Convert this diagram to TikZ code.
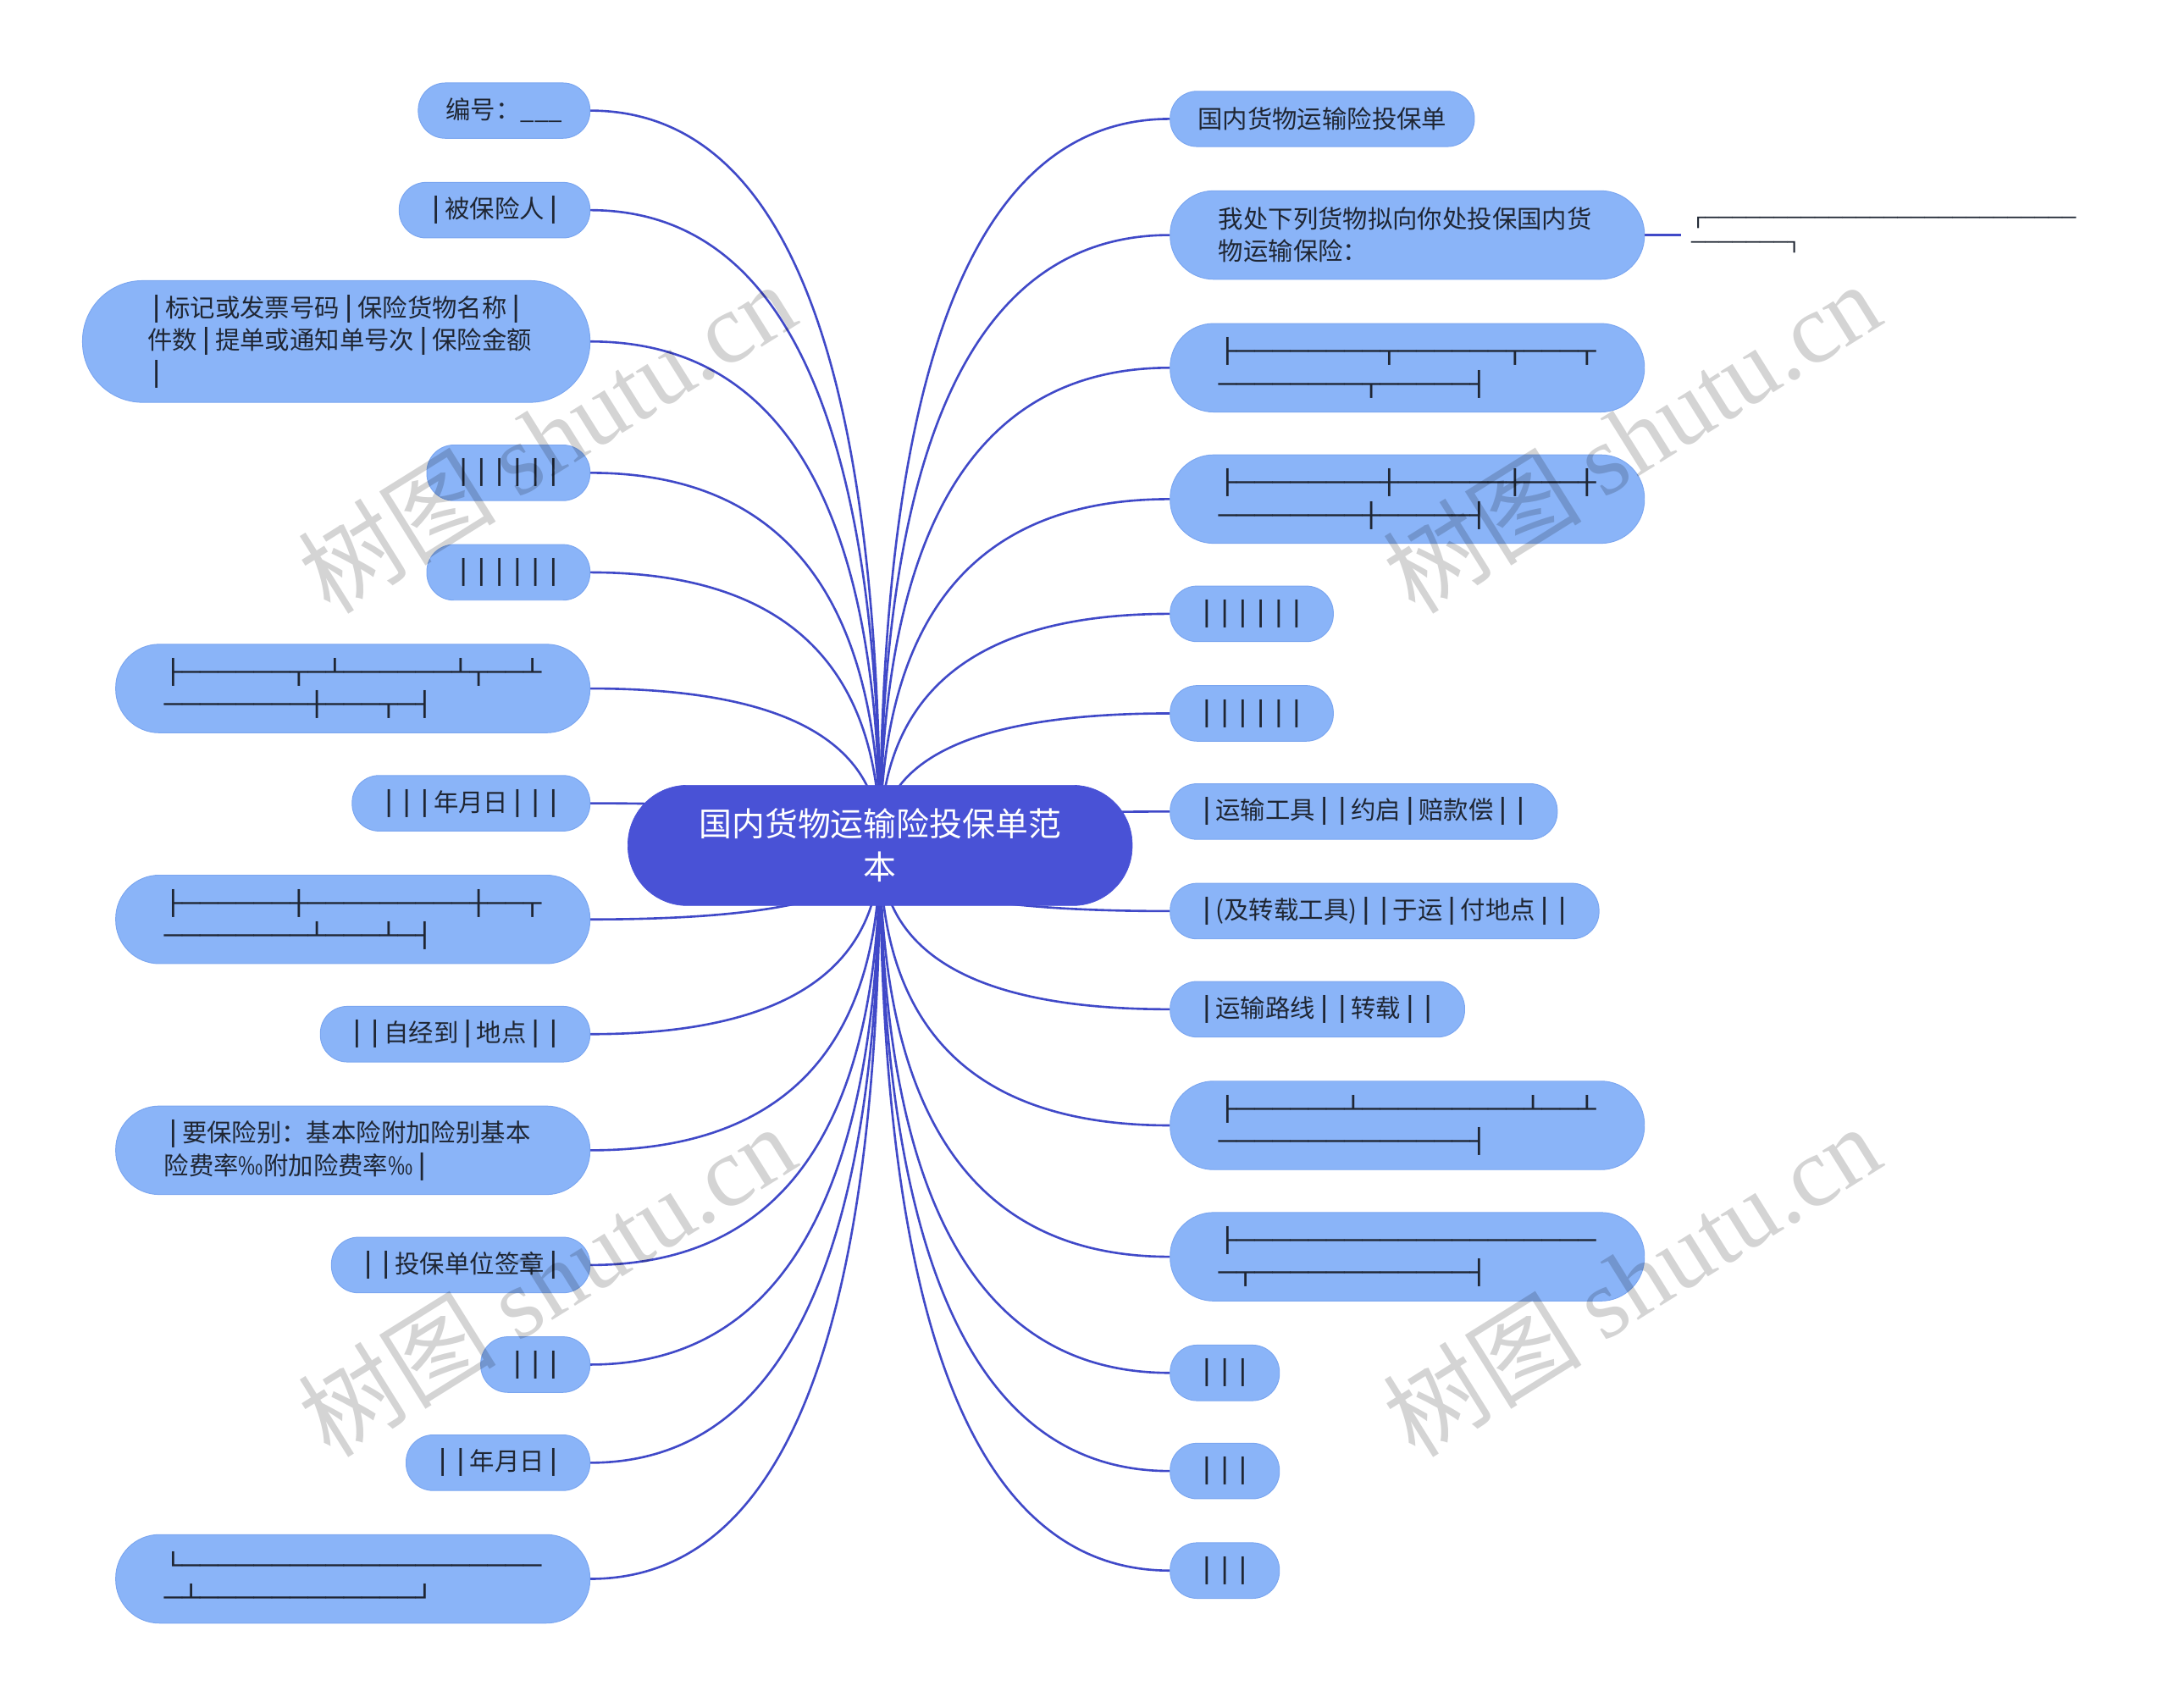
\documentclass[tikz,border=0pt]{standalone}
\usepackage{fontspec}
\setmainfont{Noto Sans CJK SC}
\newfontfamily\boxfont{DejaVu Sans Mono}[FakeStretch=1.27]
\newfontfamily\markfont{Liberation Serif}
\usepackage{tikz}
\usetikzlibrary{calc,backgrounds}
\definecolor{rootc}{HTML}{4952D6}
\definecolor{leafc}{HTML}{8AB4F8}
\definecolor{leafline}{HTML}{7BA6F0}
\definecolor{linkc}{HTML}{4049C8}
\definecolor{inkc}{HTML}{1F2633}
\newcommand\bx[1]{{\boxfont\fontsize{17}{23.5}\selectfont #1}}
\newcommand\bxs[1]{{\boxfont\fontsize{13}{17.8}\selectfont #1}}
\tikzset{
  leafnode/.style={rectangle, rounded corners=19.5pt, draw=leafline, line width=0.6pt,
    fill=leafc, text=inkc, font=\fontsize{18}{23.5}\selectfont,
    inner xsep=20pt, inner ysep=10pt, minimum height=40pt},
  leftnode/.style={leafnode, anchor=east},
  rightnode/.style={leafnode, anchor=west},
  widenode/.style={text width=273pt, align=left, inner xsep=35pt,
    minimum height=64pt, rounded corners=31.5pt},
  tallnode/.style={inner xsep=47pt, minimum height=88pt, rounded corners=43.5pt},
  rootnode/.style={rectangle, rounded corners=43pt, draw=rootc, fill=rootc, text=white,
    font=\fontsize{23.8}{31}\selectfont, inner xsep=51.5pt, minimum height=87pt,
    align=center},
  plainnode/.style={inner xsep=7pt, inner ysep=2pt, text=inkc, align=left, anchor=west,
    font=\fontsize{13}{17.8}\selectfont},
  branchedge/.style={draw=linkc, line width=1.6pt,
    to path={.. controls ($(\tikztostart)!0.667!(\tikztostart |- \tikztotarget)$)
      and ($(\tikztotarget)!0.667!(\tikztostart |- \tikztotarget)$) .. (\tikztotarget)}},
  linkedge/.style={draw=linkc, line width=1.6pt},
  watermark/.style={rotate=32, text=black, text opacity=0.17,
    font=\fontsize{72}{76}\selectfont},
}

\begin{document}
\begin{tikzpicture}[x=1pt, y=-1pt]
  \useasboundingbox (0,0) rectangle (1568,1235);
  \node[rootnode] (root) at (636.5,611.5) {国内货物运输险投保单范\\本};
  % left side
  \node[leftnode] (l1) at (427,80) {编号：\_\_\_};
  \node[leftnode] (l2) at (427,152) {\bx{│}被保险人\bx{│}};
  \node[leftnode, widenode, tallnode] (l3) at (427,247) {\bx{│}标记或发票号码\bx{│}保险货物名称\bx{│}\\件数\bx{│}提单或通知单号次\bx{│}保险金额\\\bx{│}};
  \node[leftnode] (l4) at (427,342) {\bx{││││││}};
  \node[leftnode] (l5) at (427,414) {\bx{││││││}};
  \node[leftnode, widenode] (l6) at (427,498) {\bx{├──────┬─┴──────┴┬──┴}\\\bx{────────┼───┬─┤}};
  \node[leftnode] (l7) at (427,581) {\bx{│││}年月日\bx{│││}};
  \node[leftnode, widenode] (l8) at (427,665) {\bx{├──────┼─────────┼──┬}\\\bx{────────┴───┴─┤}};
  \node[leftnode] (l9) at (427,748) {\bx{││}自经到\bx{│}地点\bx{││}};
  \node[leftnode, widenode] (l10) at (427,832) {\bx{│}要保险别：基本险附加险别基本\\险费率‰附加险费率‰\bx{│}};
  \node[leftnode] (l11) at (427,915) {\bx{││}投保单位签章\bx{│}};
  \node[leftnode] (l12) at (427,987) {\bx{│││}};
  \node[leftnode] (l13) at (427,1058) {\bx{││}年月日\bx{│}};
  \node[leftnode, widenode] (l14) at (427,1142) {\bx{└────────────────────}\\\bx{─┴────────────┘}};
  % right side
  \node[rightnode] (r1) at (846,86) {国内货物运输险投保单};
  \node[rightnode, widenode] (r2) at (846,170) {我处下列货物拟向你处投保国内货\\物运输保险：};
  \node[plainnode] (r2s) at (1216,170) {\bxs{┌───────────────────────────}\\\bxs{───────┐}};
  \node[rightnode, widenode] (r3) at (846,266) {\bx{├────────┬──────┬───┬}\\\bx{────────┬─────┤}};
  \node[rightnode, widenode] (r4) at (846,361) {\bx{├────────┼──────┼───┼}\\\bx{────────┼─────┤}};
  \node[rightnode] (r5) at (846,444) {\bx{││││││}};
  \node[rightnode] (r6) at (846,516) {\bx{││││││}};
  \node[rightnode] (r7) at (846,587) {\bx{│}运输工具\bx{││}约启\bx{│}赔款偿\bx{││}};
  \node[rightnode] (r8) at (846,659) {\bx{│}(及转载工具)\bx{││}于运\bx{│}付地点\bx{││}};
  \node[rightnode] (r9) at (846,730) {\bx{│}运输路线\bx{││}转载\bx{││}};
  \node[rightnode, widenode] (r10) at (846,814) {\bx{├──────┴─────────┴──┴}\\\bx{──────────────┤}};
  \node[rightnode, widenode] (r11) at (846,909) {\bx{├────────────────────}\\\bx{─┬────────────┤}};
  \node[rightnode] (r12) at (846,993) {\bx{│││}};
  \node[rightnode] (r13) at (846,1064) {\bx{│││}};
  \node[rightnode] (r14) at (846,1136) {\bx{│││}};
  % connectors behind the nodes
  \begin{scope}[on background layer]
    \draw[branchedge] (root.center) to (l1.east);
    \draw[branchedge] (root.center) to (l2.east);
    \draw[branchedge] (root.center) to (l3.east);
    \draw[branchedge] (root.center) to (l4.east);
    \draw[branchedge] (root.center) to (l5.east);
    \draw[branchedge] (root.center) to (l6.east);
    \draw[branchedge] (root.center) to (l7.east);
    \draw[branchedge] (root.center) to (l8.east);
    \draw[branchedge] (root.center) to (l9.east);
    \draw[branchedge] (root.center) to (l10.east);
    \draw[branchedge] (root.center) to (l11.east);
    \draw[branchedge] (root.center) to (l12.east);
    \draw[branchedge] (root.center) to (l13.east);
    \draw[branchedge] (root.center) to (l14.east);
    \draw[branchedge] (root.center) to (r1.west);
    \draw[branchedge] (root.center) to (r2.west);
    \draw[branchedge] (root.center) to (r3.west);
    \draw[branchedge] (root.center) to (r4.west);
    \draw[branchedge] (root.center) to (r5.west);
    \draw[branchedge] (root.center) to (r6.west);
    \draw[branchedge] (root.center) to (r7.west);
    \draw[branchedge] (root.center) to (r8.west);
    \draw[branchedge] (root.center) to (r9.west);
    \draw[branchedge] (root.center) to (r10.west);
    \draw[branchedge] (root.center) to (r11.west);
    \draw[branchedge] (root.center) to (r12.west);
    \draw[branchedge] (root.center) to (r13.west);
    \draw[branchedge] (root.center) to (r14.west);
    \draw[linkedge] (r2.east) -- (r2s.west);
  \end{scope}
  % watermarks
  \node[watermark] (wm1) at (395,316) {树图 {\markfont shutu.cn}};
  \node[watermark] (wm2) at (1180,316) {树图 {\markfont shutu.cn}};
  \node[watermark] (wm3) at (395,926) {树图 {\markfont shutu.cn}};
  \node[watermark] (wm4) at (1180,926) {树图 {\markfont shutu.cn}};
\end{tikzpicture}
\end{document}
